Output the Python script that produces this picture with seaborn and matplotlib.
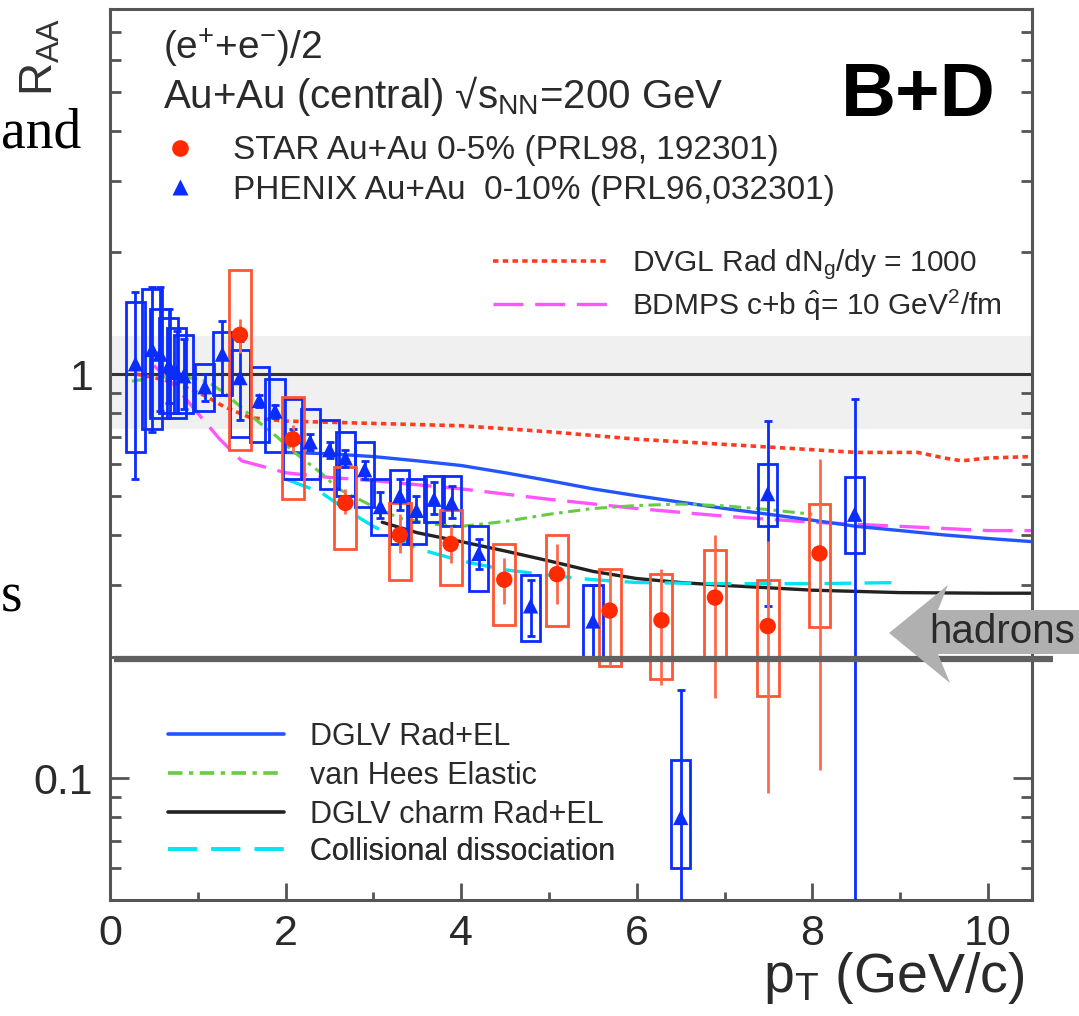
import numpy as np
import pandas as pd
import matplotlib
matplotlib.use("Agg")
import matplotlib.pyplot as plt
import seaborn as sns
from matplotlib.lines import Line2D
from matplotlib.patches import Polygon
from matplotlib.ticker import FixedLocator, FixedFormatter, LogLocator, NullFormatter, MultipleLocator

# ---------------- data ----------------
star_pt = [1.48, 2.08, 2.68, 3.30, 3.88, 4.49, 5.09, 5.69, 6.28, 6.89, 7.49, 8.08]
star_raa = [1.25, 0.69, 0.48, 0.40, 0.38, 0.31, 0.32, 0.26, 0.246, 0.28, 0.238, 0.36]
star_stat_lo = [1.13, 0.64, 0.45, 0.36, 0.34, 0.27, 0.27, 0.19, 0.17, 0.158, 0.092, 0.105]
star_stat_hi = [1.37, 0.75, 0.52, 0.45, 0.42, 0.35, 0.38, 0.33, 0.33, 0.40, 0.386, 0.617]
star_sys_lo = [0.65, 0.49, 0.37, 0.31, 0.30, 0.24, 0.238, 0.19, 0.176, 0.20, 0.16, 0.237]
star_sys_hi = [1.81, 0.88, 0.59, 0.48, 0.46, 0.38, 0.40, 0.33, 0.32, 0.367, 0.31, 0.476]

phx_pt = [0.29, 0.48, 0.57, 0.67, 0.76, 0.84, 1.08, 1.28, 1.48, 1.70, 1.88, 2.08, 2.28, 2.50,
          2.68, 2.90, 3.08, 3.30, 3.49, 3.69, 3.89, 4.20, 4.79, 5.50, 6.50, 7.49, 8.48]
phx_raa = [1.06, 1.15, 1.12, 1.05, 1.01, 0.99, 0.93, 1.12, 0.98, 0.86, 0.81, 0.70, 0.68, 0.65,
           0.62, 0.58, 0.47, 0.50, 0.46, 0.49, 0.48, 0.36, 0.267, 0.245, 0.08, 0.506, 0.45]
phx_stat_lo = [0.55, 0.72, 0.81, 0.85, 0.80, 0.82, 0.86, 0.89, 0.77, 0.83, 0.78, 0.67, 0.65, 0.62,
               0.59, 0.55, 0.44, 0.46, 0.43, 0.45, 0.44, 0.33, 0.225, 0.20, 0.035, 0.267, 0.03]
phx_stat_hi = [1.60, 1.64, 1.64, 1.45, 1.28, 1.22, 1.00, 1.35, 1.21, 0.89, 0.84, 0.73, 0.71, 0.68,
               0.65, 0.61, 0.51, 0.55, 0.50, 0.54, 0.53, 0.39, 0.31, 0.30, 0.165, 0.766, 0.87]
phx_sys_lo = [0.64, 0.73, 0.78, 0.80, 0.78, 0.80, 0.81, 0.89, 0.70, 0.68, 0.64, 0.55, 0.55, 0.52,
              0.50, 0.47, 0.40, 0.38, 0.38, 0.43, 0.42, 0.29, 0.219, 0.20, 0.06, 0.42, 0.36]
phx_sys_hi = [1.51, 1.62, 1.45, 1.38, 1.30, 1.25, 1.06, 1.27, 1.15, 1.04, 0.97, 0.87, 0.82, 0.77,
              0.72, 0.68, 0.55, 0.58, 0.55, 0.56, 0.56, 0.42, 0.318, 0.30, 0.111, 0.60, 0.555]

dvgl_pt = [0.3, 0.6, 0.9, 1.1, 1.3, 1.6, 2.0, 3.0, 4.0, 5.0, 6.0, 7.0, 8.0, 8.5, 9.2, 9.5, 9.7, 10.0, 10.5]
dvgl_raa = [1.0, 0.97, 0.92, 0.88, 0.83, 0.78, 0.765, 0.755, 0.745, 0.72, 0.69, 0.67, 0.65, 0.64,
            0.64, 0.62, 0.61, 0.62, 0.625]

bdmps_pt = [0.5, 0.75, 1.0, 1.25, 1.5, 1.75, 2.0, 2.5, 3.0, 4.0, 5.0, 6.0, 7.0, 8.0, 9.0, 10.0, 10.5]
bdmps_raa = [1.05, 0.93, 0.80, 0.69, 0.61, 0.59, 0.57, 0.555, 0.545, 0.52, 0.49, 0.465, 0.445,
             0.43, 0.42, 0.41, 0.41]

dglv_pt = [2.0, 2.5, 3.0, 3.5, 4.0, 4.5, 5.0, 5.5, 6.0, 6.5, 7.0, 7.5, 8.0, 8.5, 9.0, 9.5, 10.0, 10.5]
dglv_raa = [0.64, 0.635, 0.625, 0.61, 0.594, 0.57, 0.545, 0.52, 0.50, 0.482, 0.465, 0.45, 0.435,
            0.42, 0.41, 0.40, 0.392, 0.385]

vanhees_pt = [0.25, 0.5, 0.8, 1.1, 1.3, 1.6, 1.9, 2.1, 2.4, 2.6, 3.0, 3.3, 3.7, 4.0, 4.5, 5.0,
              5.5, 6.0, 6.5, 7.0, 7.5, 8.0]
vanhees_raa = [0.96, 0.98, 0.99, 0.96, 0.90, 0.79, 0.70, 0.64, 0.57, 0.52, 0.47, 0.44, 0.425,
               0.42, 0.432, 0.45, 0.465, 0.473, 0.477, 0.472, 0.462, 0.45]

charm_pt = [3.1, 3.5, 4.0, 4.5, 5.0, 5.5, 6.0, 6.5, 7.0, 7.5, 8.0, 9.0, 10.0, 10.5]
charm_raa = [0.43, 0.405, 0.385, 0.365, 0.345, 0.325, 0.312, 0.305, 0.30, 0.296, 0.292, 0.288,
             0.287, 0.287]

coll_pt = [2.0, 2.4, 2.7, 3.0, 3.5, 4.0, 4.5, 5.0, 5.5, 6.0, 7.0, 8.0, 9.0]
coll_raa = [0.55, 0.51, 0.46, 0.42, 0.37, 0.345, 0.328, 0.318, 0.31, 0.305, 0.303, 0.303, 0.305]

norm_band = [0.73, 1.24]
hadron_level = 0.197
hadron_line_pt = [0.05, 10.74]

x_ticks = [0, 2, 4, 6, 8, 10]
y_ticks = [0.1, 1]
y_ticklabels = ["0.1", "1"]

# ---------------- style ----------------
sns.set_style("ticks")
plt.rcParams["font.family"] = ["Liberation Sans", "DejaVu Sans"]
plt.rcParams["mathtext.fontset"] = "custom"
plt.rcParams["mathtext.rm"] = "Liberation Sans"
plt.rcParams["mathtext.it"] = "Liberation Sans:italic"
plt.rcParams["mathtext.bf"] = "Liberation Sans:bold"

W, H = 1079, 1016
TXT = "#2a2a2a"
AX = "#555555"
RED = "#ff2a00"
RED_BOX = "#ff5533"
BLUE = "#0a2cff"
C_DVGL = "#ff3b1f"
C_BDMPS = "#ff55ff"
C_DGLV = "#2255ff"
C_VH = "#66cc44"
C_CHARM = "#222222"
C_COLL = "#00e5f0"

fig = plt.figure(figsize=(W / 100, H / 100), dpi=100)
ax = fig.add_axes([110 / W, 1 - 900 / H, 922 / W, 891 / H])
ax.set_yscale("log")
ax.set_xlim(0, 10.5)
ax.set_ylim(0.05, 8)

# normalisation band and unity line
ax.axhspan(norm_band[0], norm_band[1], color="#f0f0f0", zorder=0, lw=0)
ax.axhline(1.0, color="#333333", lw=2.2, zorder=1)

# theory curves
ls_dvgl = (0, (1.5, 1.2))
ls_bdmps = (0, (9, 3.5))
ls_vh = (0, (4, 1.8, 1.2, 1.8))
ls_coll = (0, (8, 4))
curves = [
    (dvgl_pt, dvgl_raa, C_DVGL, ls_dvgl, 2.6),
    (bdmps_pt, bdmps_raa, C_BDMPS, ls_bdmps, 2.4),
    (dglv_pt, dglv_raa, C_DGLV, "-", 2.4),
    (vanhees_pt, vanhees_raa, C_VH, ls_vh, 2.2),
    (charm_pt, charm_raa, C_CHARM, "-", 2.4),
    (coll_pt, coll_raa, C_COLL, ls_coll, 2.4),
]
for xs, ys, col, ls, lw in curves:
    sns.lineplot(x=xs, y=ys, ax=ax, color=col, linestyle=ls, lw=lw, zorder=2)

# systematic boxes
phx_w = 0.22
star_w = 0.25
ax.bar(phx_pt, np.array(phx_sys_hi) - np.array(phx_sys_lo), bottom=phx_sys_lo, width=phx_w,
       fill=False, edgecolor=BLUE, linewidth=2.0, zorder=3)
ax.bar(star_pt, np.array(star_sys_hi) - np.array(star_sys_lo), bottom=star_sys_lo, width=star_w,
       fill=False, edgecolor=RED_BOX, linewidth=2.0, zorder=3)

# statistical error bars
ax.errorbar(phx_pt, phx_raa,
            yerr=[np.array(phx_raa) - np.array(phx_stat_lo), np.array(phx_stat_hi) - np.array(phx_raa)],
            fmt="none", ecolor=BLUE, elinewidth=2.0, capsize=3, capthick=2.0, zorder=3)
ax.errorbar(star_pt, star_raa,
            yerr=[np.array(star_raa) - np.array(star_stat_lo), np.array(star_stat_hi) - np.array(star_raa)],
            fmt="none", ecolor="#ff6a4d", elinewidth=2.0, capsize=0, zorder=3)

# markers
sns.scatterplot(x=phx_pt, y=phx_raa, ax=ax, marker="^", s=120, color=BLUE, edgecolor="none", zorder=4)
sns.scatterplot(x=star_pt, y=star_raa, ax=ax, marker="o", s=140, color=RED, edgecolor="none", zorder=4)

# hadron reference line (extends beyond the frame)
ax.plot(hadron_line_pt, [hadron_level, hadron_level], color="#606060", lw=4.5,
        clip_on=False, zorder=5, solid_capstyle="butt")

# axes cosmetics
for sp in ax.spines.values():
    sp.set_color(AX)
    sp.set_linewidth(2.2)
ax.xaxis.set_major_locator(FixedLocator(x_ticks))
ax.xaxis.set_minor_locator(MultipleLocator(1))
ax.yaxis.set_major_locator(FixedLocator(y_ticks))
ax.yaxis.set_major_formatter(FixedFormatter(y_ticklabels))
ax.yaxis.set_minor_locator(LogLocator(base=10, subs=np.arange(2, 10)))
ax.yaxis.set_minor_formatter(NullFormatter())
ax.tick_params(axis="both", which="both", direction="in", color=AX, width=2.0,
               labelcolor=TXT, labelsize=31)
ax.tick_params(axis="y", which="both", left=True, right=True)
ax.tick_params(axis="y", which="major", length=14, pad=12)
ax.tick_params(axis="y", which="minor", length=8)
ax.tick_params(axis="x", which="major", length=12, pad=10, top=False)
ax.tick_params(axis="x", which="minor", length=6, top=False)
ax.set_xlabel(r"p$_{\rm T}$ (GeV/c)", fontsize=40, color=TXT, loc="right")
ax.xaxis.set_label_coords((1025 - 110) / 922, -(978 - 900) / 891)
ax.xaxis.label.set_va("center")
ax.set_ylabel("")

# header texts
def px(x, y):
    return x / W, 1 - y / H

fig.text(*px(163, 48), r"(e$^{+}$+e$^{-}$)/2", fontsize=28, color=TXT, ha="left", va="center")
fig.text(*px(163, 96), r"Au+Au (central) √s$_{\rm NN}$=200 GeV", fontsize=29, color=TXT,
         ha="left", va="center")
fig.text(*px(918, 97), "B+D", fontsize=55, fontweight="bold", color="black", ha="center", va="center")
fig.text(*px(40, 57), r"R$_{\rm AA}$", fontsize=33, color="#333333", rotation=90, ha="center", va="center")
fig.text(*px(1, 147), "and", fontsize=40, family="Liberation Serif", color="black", ha="left", va="baseline")
fig.text(*px(1, 612), "s", fontsize=40, family="Liberation Serif", color="black", ha="left", va="baseline")

# legend keys
def key(handle, label, x_px, y_px, fs, hl, pad):
    leg = ax.legend(handles=[handle], labels=[label], loc="center left",
                    bbox_to_anchor=px(x_px, y_px), bbox_transform=fig.transFigure,
                    frameon=False, fontsize=fs, handlelength=hl, handletextpad=pad,
                    borderpad=0, borderaxespad=0, labelcolor=TXT)
    ax.add_artist(leg)

key(Line2D([], [], marker="o", ls="none", ms=12, color=RED, mec="none"),
    "STAR Au+Au 0-5% (PRL98, 192301)", 168, 151, 24, 0.7, 1.25)
key(Line2D([], [], marker="^", ls="none", ms=11, color=BLUE, mec="none"),
    "PHENIX Au+Au  0-10% (PRL96,032301)", 168, 190, 24, 0.7, 1.25)

key(Line2D([], [], color=C_DVGL, ls=ls_dvgl, lw=2.6),
    r"DVGL Rad dN$_{\rm g}$/dy = 1000", 493, 265, 21.5, 3.9, 0.75)
key(Line2D([], [], color=C_BDMPS, ls=ls_bdmps, lw=2.4),
    r"BDMPS c+b $\hat{\rm q}$= 10 GeV$^{2}$/fm", 493, 305, 21.5, 3.9, 0.75)

low_keys = [
    (C_DGLV, "-", "DGLV Rad+EL", 737),
    (C_VH, ls_vh, "van Hees Elastic", 776),
    (C_CHARM, "-", "DGLV charm Rad+EL", 815),
    (C_COLL, ls_coll, "Collisional dissociation", 852),
]
for col, ls, lab, ypx in low_keys:
    key(Line2D([], [], color=col, ls=ls, lw=2.6), lab, 168, ypx, 22, 3.8, 0.85)

# hadrons arrow
arrow_px = [(889, 633), (948, 585), (938, 610), (1079, 610), (1079, 654), (938, 654), (950, 683)]
fig.patches.append(Polygon([px(x, y) for x, y in arrow_px], closed=True, transform=fig.transFigure,
                           facecolor="#b0b0b0", edgecolor="none", zorder=6))
fig.text(*px(929, 632), "hadrons", fontsize=29, color=TXT, ha="left", va="center", zorder=7)

fig.savefig("out.png", dpi=100)
